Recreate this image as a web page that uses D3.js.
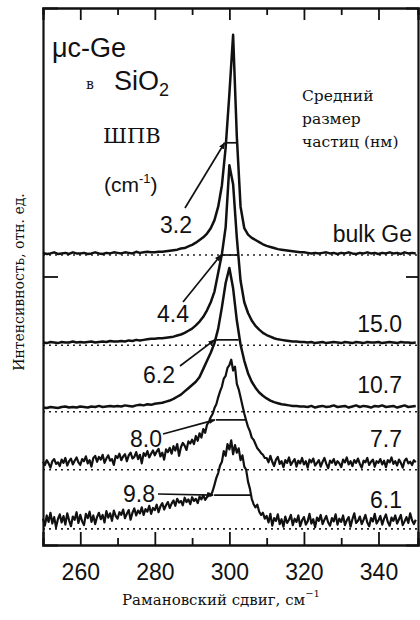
<!DOCTYPE html>
<html><head><meta charset="utf-8">
<script src="https://cdn.jsdelivr.net/npm/d3@7"></script>
<style>body{margin:0;background:#fff}svg{display:block}</style>
</head><body>
<svg id="c" width="420" height="620"></svg>
<script>
// ---------- DATA ----------
const shiftStart = 250;                 // Raman shift of the first sample, cm^-1
const specSteps = [1, 1, 1, 0.5, 0.5];  // sampling step of each spectrum, cm^-1
const sizeLabels = ["bulk Ge", "15.0", "10.7", "7.7", "6.1"];
const fwhmLabels = ["3.2", "4.4", "6.2", "8.0", "9.8"];
const fwhmValues = [3.2, 4.4, 6.2, 8.0, 9.8];
const peakCenters = [300.6, 300.2, 299.4, 300.4, 300.8];
const halfMax = [20.9, 16.8, 13.4, 9.3, 6.3];
const offsets = [54.0, 37.2, 24.8, 14.0, 3.0];
const xTicks = [260, 280, 300, 320, 340];
const xMinorTicks = [270, 290, 310, 330];
const yTicks = [50];

const specBulk = [
0.4,0.2,0.3,0.5,0.2,0.3,0.4,0.2,0.5,0.3,
0.3,0.4,0.2,0.3,0.5,0.3,0.2,0.4,0.3,0.5,
0.4,0.3,0.5,0.4,0.3,0.6,0.4,0.5,0.6,0.5,
0.5,0.6,0.6,0.7,0.8,0.9,1.0,1.2,1.3,1.6,
1.9,2.3,2.8,3.3,4.0,5.0,6.5,9,13,20,
30,41,22,9,5,3.8,3.2,2.8,2.4,2.0,
1.7,1.5,1.3,1.1,1.0,0.9,0.8,0.7,0.6,0.5,
0.5,0.4,0.3,0.4,0.3,0.4,0.5,0.3,0.4,0.2,
0.4,0.3,0.5,0.3,0.2,0.4,0.3,0.5,0.3,0.4,
0.2,0.4,0.3,0.5,0.3,0.4,0.2,0.5,0.3,0.4,0.3];
const spec150 = [
0.5,0.4,0.6,0.5,0.4,0.6,0.5,0.5,0.7,0.5,
0.6,0.5,0.6,0.7,0.5,0.6,0.7,0.6,0.8,0.7,
0.7,0.8,0.7,0.9,0.8,1.0,0.9,1.0,1.1,1.2,
1.2,1.3,1.3,1.4,1.5,1.6,1.8,2.0,2.3,2.7,
3.1,3.7,4.4,5.3,6.5,8,10,13.5,17,22,
33.5,30,20,12,8,6,4.6,3.6,2.9,2.3,
1.9,1.6,1.3,1.1,1.0,0.9,0.8,0.7,0.7,0.6,
0.6,0.5,0.6,0.4,0.5,0.6,0.4,0.5,0.6,0.5,
0.4,0.6,0.5,0.4,0.6,0.5,0.4,0.6,0.5,0.5,
0.6,0.4,0.5,0.6,0.5,0.4,0.6,0.5,0.5,0.4,0.5];
const spec107 = [
0.8,0.7,0.9,0.8,0.7,0.9,1.0,0.8,0.9,0.8,
1.0,0.9,0.8,1.0,0.9,1.1,0.9,1.0,1.1,1.0,
1.1,1.0,1.2,1.1,1.0,1.2,1.3,1.2,1.4,1.3,
1.5,1.6,1.7,1.9,2.1,2.4,2.8,3.2,3.8,4.4,
5.0,5.6,6.5,8.0,9.5,11,12.8,15.5,19.5,24,
26.8,23,17,12.5,9.5,7.2,5.6,4.5,3.6,3.0,
2.5,2.1,1.8,1.6,1.4,1.3,1.2,1.1,1.1,1.0,
1.0,0.9,1.1,0.8,1.0,1.1,0.9,1.0,1.2,0.9,
1.0,1.1,0.8,1.0,1.2,0.9,1.1,1.0,0.8,1.1,
1.0,1.2,0.9,1.0,1.1,0.8,1.0,1.2,0.9,1.0,1.1];
const spec77 = [
1.5,0.9,1.8,1.2,0.4,1.6,2.0,1.1,1.4,0.7,
1.9,1.3,2.2,0.8,1.6,2.1,1.0,1.7,2.3,1.4,
0.9,2.0,1.6,2.5,1.2,1.8,0.6,2.2,2.6,1.5,
2.4,1.9,2.8,1.3,2.1,2.7,1.7,2.0,0.9,2.6,
2.2,3.0,1.8,2.5,2.9,1.6,2.7,3.2,2.1,2.4,
3.3,2.0,2.8,1.2,3.1,2.6,3.5,2.3,3.0,3.6,
2.7,3.4,3.9,2.5,3.2,1.9,3.8,3.3,4.1,3.0,
4.4,3.6,4.8,2.6,4.2,5.0,4.5,3.7,5.3,4.9,
5.6,4.8,6.3,5.4,6.8,6.0,7.6,6.9,8.4,8.9,
9.8,10.4,11.5,12.2,13.5,14.6,15.5,17.0,17.5,19.0,
19.5,20.5,18.5,19.2,16.0,15.0,13.5,12.0,10.5,9.2,
8.0,7.2,6.0,5.6,4.8,4.0,3.6,3.1,2.8,2.2,
2.2,1.4,2.6,1.5,0.7,1.9,2.4,1.1,1.6,0.5,
1.8,1.3,2.3,0.9,1.5,2.0,0.6,1.7,1.2,2.2,
1.0,1.6,0.4,1.9,1.4,2.1,0.8,1.3,1.8,0.6,
1.5,2.2,1.1,0.3,1.7,1.3,2.0,0.9,1.6,1.2,
0.5,1.9,1.4,2.3,1.0,1.6,0.7,1.8,1.3,2.1,
1.1,0.4,1.7,1.4,2.2,0.9,1.5,1.9,0.6,1.6,
1.3,2.0,1.0,1.7,0.5,1.8,1.4,2.3,1.1,1.6,
0.8,1.9,1.3,0.4,1.7,2.1,1.2,1.5,0.9,1.8,
1.4];
const spec61 = [
1.9,0.6,2.5,1.3,3.0,1.0,2.2,0.3,1.8,2.7,
1.2,2.4,0.8,2.9,1.6,0.5,2.3,1.7,3.1,1.1,
2.6,1.4,0.7,2.8,2.0,3.2,1.3,2.5,0.9,2.2,
3.0,1.8,2.6,1.2,3.3,2.1,2.9,1.5,3.4,2.4,
1.9,3.1,2.6,3.6,2.0,2.8,3.5,1.7,3.0,3.8,
2.5,3.4,2.9,4.0,2.6,3.7,3.2,4.3,2.8,3.9,
3.5,4.5,3.1,4.2,4.8,3.6,4.4,5.0,3.9,4.7,
5.3,4.3,5.6,4.9,5.2,4.4,5.8,5.0,5.5,4.6,
5.9,5.2,5.6,4.8,6.0,5.5,6.3,5.4,5.9,6.6,
6.2,7.0,8.2,9.5,10.4,11.8,12.5,14.5,13.6,15.8,
14.8,16.5,13.9,15.6,14.2,15.0,12.8,13.7,11.6,11.0,
8.8,7.5,5.6,4.6,4.0,4.5,3.2,2.6,3.0,1.9,
2.4,1.2,2.8,0.6,2.0,1.5,2.7,0.9,1.8,0.4,
2.3,1.1,1.7,2.6,0.7,1.9,1.3,2.5,0.5,1.6,
2.2,0.8,1.4,2.8,1.0,1.8,0.3,2.1,1.5,2.6,
0.9,1.7,2.4,1.2,0.6,2.0,1.4,2.7,0.8,1.9,
1.3,2.5,0.7,1.6,2.2,0.4,1.8,2.9,1.1,1.5,
2.3,0.9,1.7,2.6,1.2,0.5,2.0,1.4,2.8,1.0,
1.6,2.4,0.8,1.9,2.7,1.3,0.6,2.1,1.5,2.5,
1.0,1.8,2.6,0.7,1.4,2.2,1.1,2.9,1.6,0.9,
1.7];
const spectra = [specBulk, spec150, spec107, spec77, spec61];

// ---------- LAYOUT ----------
const svg = d3.select("#c");
const L = 43, R = 418, T = 8, B = 545;
const x = d3.scaleLinear().domain([250, 350.6]).range([L, R]);
const y = d3.scaleLinear().domain([0, 100]).range([B, T]);
const sans = "Liberation Sans, Arial, Helvetica, sans-serif";
const serif = "DejaVu Serif, serif";

const defs = svg.append("defs");
defs.append("marker").attr("id","arr").attr("viewBox","0 0 10 10")
  .attr("refX",9).attr("refY",5).attr("markerWidth",4).attr("markerHeight",4)
  .attr("orient","auto").append("path").attr("d","M0,1 L10,5 L0,9 Z").attr("fill","#111");

// dotted baselines
svg.append("g").selectAll("line").data(offsets).join("line")
  .attr("x1", L).attr("x2", R).attr("y1", d => y(d)).attr("y2", d => y(d))
  .attr("stroke","#222").attr("stroke-width",1.6).attr("stroke-dasharray","2,4");

// spectra
spectra.forEach((s, k) => {
  const line = d3.line().x((d,i) => x(shiftStart + i*specSteps[k])).y(d => y(offsets[k] + d));
  svg.append("path").attr("d", line(s))
    .attr("fill","none").attr("stroke","#111")
    .attr("stroke-width", k < 3 ? 2.5 : 2.2).attr("stroke-linejoin","round");
});

// FWHM bars
svg.append("g").selectAll("line").data(fwhmValues).join("line")
  .attr("x1",(d,i) => x(peakCenters[i] - d/2)).attr("x2",(d,i) => x(peakCenters[i] + d/2))
  .attr("y1",(d,i) => y(offsets[i] + halfMax[i])).attr("y2",(d,i) => y(offsets[i] + halfMax[i]))
  .attr("stroke","#111").attr("stroke-width",1.7);

// FWHM labels with leaders
const labPos = [[160,233],[157,322],[143,383],[130,447],[123,502]];
const leadStart = [[185,208],[183,302],[180,366],[163,434],[158,494]];
fwhmLabels.forEach((t,i) => {
  svg.append("line")
    .attr("x1", leadStart[i][0]).attr("y1", leadStart[i][1])
    .attr("x2", x(peakCenters[i] - fwhmValues[i]/2) - 1)
    .attr("y2", y(offsets[i] + halfMax[i]))
    .attr("stroke","#111").attr("stroke-width",1.7).attr("marker-end","url(#arr)");
  svg.append("text").attr("x", labPos[i][0]).attr("y", labPos[i][1])
    .attr("font-family", sans).attr("font-size", 23).attr("fill","#111").text(t);
});

// size labels on the right
const sizePos = [[412,242],[402,332],[402,393],[402,447],[402,508]];
sizeLabels.forEach((t,i) => {
  svg.append("text").attr("x", sizePos[i][0]).attr("y", sizePos[i][1])
    .attr("text-anchor","end").attr("font-family", sans).attr("font-size", 23)
    .attr("fill","#111").text(t);
});

// axes
const gB = svg.append("g").attr("transform",`translate(0,${B})`);
gB.call(d3.axisBottom(x).tickValues(xTicks).tickSize(-13).tickPadding(19).tickFormat(d3.format("d")));
gB.append("g").call(d3.axisBottom(x).tickValues(xMinorTicks).tickSize(-7).tickFormat(""));
const gT = svg.append("g").attr("transform",`translate(0,${T})`);
gT.call(d3.axisTop(x).tickValues(xTicks).tickSize(-12).tickFormat(""));
gT.append("g").call(d3.axisTop(x).tickValues(xMinorTicks).tickSize(-7).tickFormat(""));
svg.append("g").attr("transform",`translate(${L},0)`)
  .call(d3.axisLeft(y).tickValues(yTicks).tickSize(-15).tickFormat(""));
svg.append("g").attr("transform",`translate(${R},0)`)
  .call(d3.axisRight(y).tickValues(yTicks).tickSize(-12).tickFormat(""));
svg.selectAll(".domain").attr("stroke","#111").attr("stroke-width",2.2);
svg.selectAll(".tick line").attr("stroke","#111").attr("stroke-width",1.8);
gB.selectAll(".tick text").attr("font-family", sans).attr("font-size", 23).attr("fill","#111");

// titles / annotations
svg.append("text").attr("x",52).attr("y",57).attr("font-family",sans).attr("font-size",27).attr("fill","#111").text("μc-Ge");
svg.append("text").attr("x",86).attr("y",89).attr("font-family",serif).attr("font-size",14).attr("fill","#111").text("в");
const t2 = svg.append("text").attr("x",114).attr("y",90).attr("font-family",sans).attr("font-size",27).attr("fill","#111");
t2.append("tspan").text("SiO");
t2.append("tspan").attr("font-size",18).attr("dy",6).text("2");
svg.append("text").attr("x",103).attr("y",143).attr("font-family",serif).attr("font-size",21).attr("fill","#111").text("ШПВ");
const t3 = svg.append("text").attr("x",104).attr("y",192).attr("font-family",sans).attr("font-size",21).attr("fill","#111");
t3.append("tspan").text("(cm");
t3.append("tspan").attr("font-size",13).attr("dy",-9).text("-1");
t3.append("tspan").attr("dy",9).text(")");

const rt = ["Средний","размер","частиц (нм)"];
rt.forEach((s,i) => svg.append("text").attr("x",302).attr("y",101 + i*23)
  .attr("font-family",serif).attr("font-size",15.5).attr("fill","#111").text(s));

svg.append("text").attr("transform","translate(24,282) rotate(-90)").attr("text-anchor","middle")
  .attr("font-family",serif).attr("font-size",14).attr("fill","#111").text("Интенсивность, отн. ед.");
const xl = svg.append("text").attr("x",122).attr("y",605)
  .attr("font-family",serif).attr("font-size",15).attr("fill","#111");
xl.append("tspan").text("Рамановский сдвиг, см");
xl.append("tspan").attr("font-size",10).attr("dy",-8).text("−1");
</script>
</body></html>
